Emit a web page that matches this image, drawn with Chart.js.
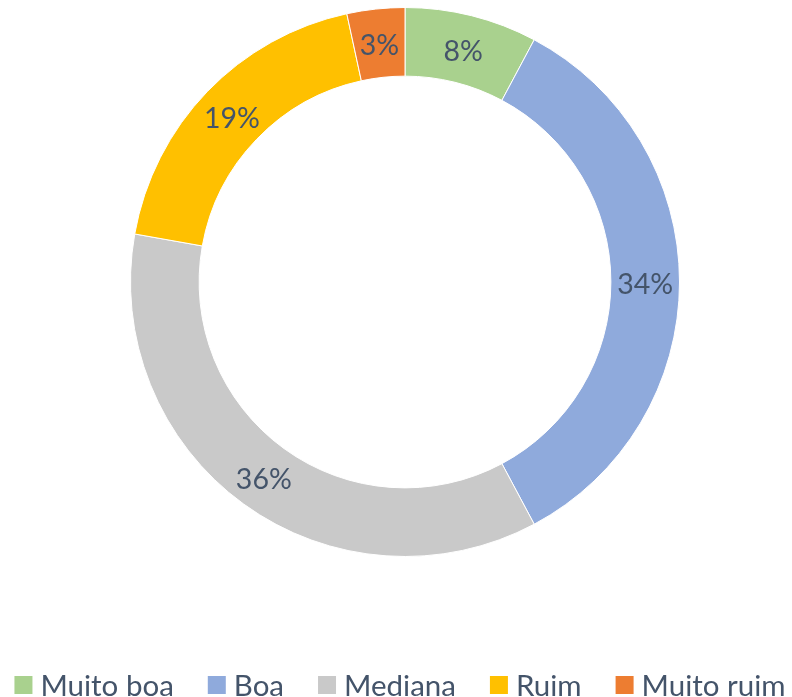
<!DOCTYPE html>
<html>
<head>
<meta charset="utf-8">
<script src="https://cdn.jsdelivr.net/npm/chart.js@4.4.1/dist/chart.umd.min.js"></script>
<style>
  html, body { margin: 0; padding: 0; background: #ffffff; }
  #wrap { width: 792px; height: 697px; position: relative; }
</style>
</head>
<body>
<div id="wrap"><canvas id="c" width="792" height="697"></canvas></div>
<script>
const categories = ['Muito boa', 'Boa', 'Mediana', 'Ruim', 'Muito ruim'];
const values = [7.8, 34.4, 35.6, 18.8, 3.4];
const colors = ['#A9D18E', '#8FAADC', '#C9C9C9', '#FFC000', '#ED7D31'];

const textColor = '#44546A';
const fontFamily = 'Lato, "Liberation Sans", sans-serif';

const pctLabels = {
  id: 'pctLabels',
  afterDatasetsDraw(chart) {
    const ctx = chart.ctx;
    const meta = chart.getDatasetMeta(0);
    const data = chart.data.datasets[0].data;
    const total = data.reduce((a, b) => a + b, 0);
    ctx.save();
    ctx.font = '28.5px ' + fontFamily;
    ctx.fillStyle = textColor;
    ctx.textAlign = 'center';
    ctx.textBaseline = 'middle';
    meta.data.forEach((arc, i) => {
      const p = arc.getCenterPoint();
      const txt = Math.round(data[i] / total * 100) + '%';
      ctx.fillText(txt, p.x, p.y + 3);
    });
    ctx.restore();
  }
};

// Bottom legend drawn from the chart's own labels and colours
const bottomLegend = {
  id: 'bottomLegend',
  afterDraw(chart) {
    const ctx = chart.ctx;
    const labels = chart.data.labels;
    const bg = chart.data.datasets[0].backgroundColor;
    const box = 18, gapText = 8, gapItem = 34;
    ctx.save();
    ctx.font = '29.5px ' + fontFamily;
    const widths = labels.map(l => ctx.measureText(l).width);
    let total = 0;
    widths.forEach((w, i) => { total += box + gapText + w + (i < labels.length - 1 ? gapItem : 0); });
    let x = 400 - total / 2;
    const yc = 685;
    ctx.textBaseline = 'middle';
    ctx.textAlign = 'left';
    labels.forEach((l, i) => {
      ctx.fillStyle = bg[i];
      ctx.fillRect(x, yc - box / 2, box, box);
      ctx.fillStyle = textColor;
      ctx.fillText(l, x + box + gapText, yc + 1);
      x += box + gapText + widths[i] + gapItem;
    });
    ctx.restore();
  }
};

new Chart(document.getElementById('c'), {
  type: 'doughnut',
  data: {
    labels: categories,
    datasets: [{
      data: values,
      backgroundColor: colors,
      borderColor: '#ffffff',
      borderWidth: 1,
      hoverOffset: 0
    }]
  },
  options: {
    responsive: false,
    animation: false,
    cutout: '75%',
    layout: { padding: { left: 18, top: 7, right: 0, bottom: 140 } },
    plugins: {
      tooltip: { enabled: false },
      legend: { display: false }
    }
  },
  plugins: [pctLabels, bottomLegend]
});
</script>
</body>
</html>
